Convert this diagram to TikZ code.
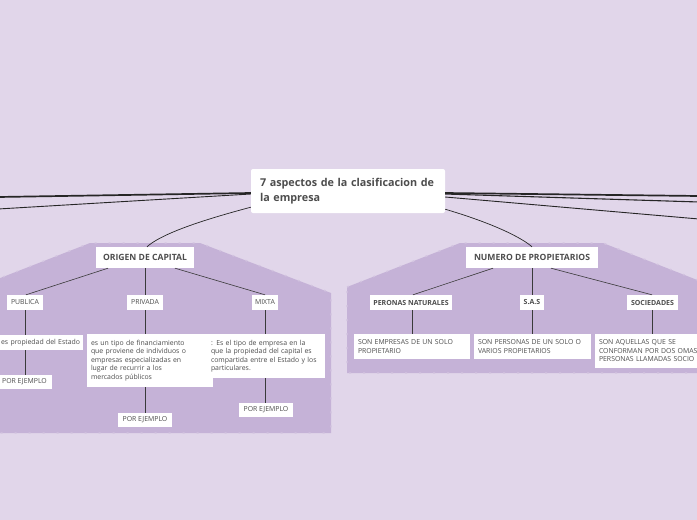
\documentclass[tikz,border=0pt]{standalone}
\usepackage{fontspec}
\setmainfont{Open Sans}
\definecolor{bgc}{HTML}{E1D6EA}
\definecolor{regc}{HTML}{C5B2D7}
\definecolor{regedge}{HTML}{D3C4E0}
\definecolor{txtc}{HTML}{4D4D4D}
\definecolor{linec}{HTML}{3A3A3A}
\tikzset{
  box/.style={fill=white, inner sep=0pt, text=txtc, align=center},
  hdr/.style={box, font=\fontsize{8.6}{10}\selectfont\bfseries},
  sub/.style={box, font=\fontsize{6.9}{8}\selectfont},
  subb/.style={box, font=\fontsize{7}{8}\selectfont\bfseries},
  desc/.style={box, font=\fontsize{6.9}{8.5}\selectfont, align=left},
  conn/.style={draw=linec, line width=0.6pt},
  mainconn/.style={draw=black!85, line width=0.9pt},
  region/.style={fill=regc, draw=regedge, line width=1.4pt, dash pattern=on 2pt off 12pt},
}
\begin{document}
\begin{tikzpicture}[x=1pt,y=-1pt]
\fill[bgc] (0,0) rectangle (697,520);
\useasboundingbox (0,0) rectangle (697,520);

% regions
\path[region] (-10,282) -- (90,243) -- (200,243) -- (331,293) -- (331,433) -- (-10,433) -- cycle;
\path[region] (347,287) -- (460,243) -- (603,243) -- (710,285) -- (710,373) -- (347,373) -- cycle;

% central node
\node[box, minimum width=194pt, minimum height=44pt, rounded corners=2pt,
      font=\fontsize{10.8}{15}\selectfont\bfseries, text width=176pt, align=left]
  (c) at (348,191) {7 aspectos de la clasificacion de\\la empresa};

% off-page endpoints
\coordinate (L1) at (-2,197);
\coordinate (L2) at (-2,209);
\coordinate (R1) at (699,196);
\coordinate (R2) at (699,202);
\coordinate (R3) at (699,219);

% level 1
\node[hdr, minimum width=98pt, minimum height=21pt] (orig) at (145,257.5) {ORIGEN DE CAPITAL};
\node[hdr, minimum width=132pt, minimum height=21pt] (num) at (532,257.5) {NUMERO DE PROPIETARIOS};

% level 2 left
\node[sub, minimum width=36pt, minimum height=15pt] (pub) at (25,302.5) {PUBLICA};
\node[sub, minimum width=36pt, minimum height=15pt] (priv) at (145,302.5) {PRIVADA};
\node[sub, minimum width=26pt, minimum height=15pt] (mix) at (265,302.5) {MIXTA};

\node[desc, minimum width=89pt, minimum height=15pt, text width=83pt, align=right] (pubd) at (38.5,342.5) {es propiedad del Estado};
\node[sub, minimum width=55pt, minimum height=14pt] (pubej) at (24.5,382) {POR EJEMPLO};

\node[desc, minimum width=126pt, minimum height=53pt, text width=118pt] (privd) at (150,360.5)
  {es un tipo de financiamiento\\que proviene de individuos o\\empresas especializadas en\\lugar de recurrir a los\\mercados públicos};
\node[sub, minimum width=54pt, minimum height=14pt] (privej) at (145,420) {POR EJEMPLO};

\node[desc, minimum width=117pt, minimum height=44pt, text width=111pt] (mixd) at (266.5,356)
  {: Es el tipo de empresa en la\\que la propiedad del capital es\\compartida entre el Estado y los\\particulares.};
\node[sub, minimum width=54pt, minimum height=14pt] (mixej) at (266,410) {POR EJEMPLO};

% level 2 right
\node[subb, minimum width=82pt, minimum height=15pt] (pn) at (411,302.5) {PERONAS NATURALES};
\node[subb, minimum width=24pt, minimum height=15pt] (sas) at (532,302.5) {S.A.S};
\node[subb, minimum width=51pt, minimum height=15pt] (soc) at (652.5,302.5) {SOCIEDADES};

\node[desc, minimum width=116pt, minimum height=25pt, text width=108pt] (pnd) at (412,346.5)
  {SON EMPRESAS DE UN SOLO\\PROPIETARIO};
\node[desc, minimum width=117pt, minimum height=25pt, text width=109pt] (sasd) at (532.5,346.5)
  {SON PERSONAS DE UN SOLO O\\VARIOS PROPIETARIOS};
\node[desc, minimum width=125pt, minimum height=34pt, text width=117pt] (socd) at (657.5,351)
  {SON AQUELLAS QUE SE\\CONFORMAN POR DOS OMAS\\PERSONAS LLAMADAS SOCIO};

% main connectors (yshift positive = up on the page)
\draw[mainconn, line width=1.7pt] ([yshift=-2pt]c.west) -- (L1);
\draw[mainconn] ([yshift=-3pt]c.west) -- (L2);
\draw[mainconn, line width=1.7pt] ([yshift=-2pt]c.east) -- (R1);
\draw[mainconn, line width=1.1pt] ([yshift=-3pt]c.east) -- (R2);
\draw[mainconn] ([yshift=-6pt]c.east) -- (R3);
\draw[mainconn, line width=0.7pt] ([yshift=6pt]c.south west) .. controls (195,222) and (160,235) .. ([xshift=2pt]orig.north);
\draw[mainconn, line width=0.7pt] ([yshift=4pt]c.south east) .. controls (495,224) and (522,238) .. (num.north);

% child connectors
\draw[conn] ([xshift=-37pt]orig.south) -- ([xshift=1pt]pub.north);
\draw[conn] (orig.south) -- (priv.north);
\draw[conn] ([xshift=30pt]orig.south) -- (mix.north);
\draw[conn] (pub.south) -- (pub.south |- pubd.north);
\draw[conn] (pub.south |- pubd.south) -- (pub.south |- pubej.north);
\draw[conn] (priv.south) -- (priv.south |- privd.north);
\draw[conn] (priv.south |- privd.south) -- (privej.north);
\draw[conn] (mix.south) -- (mix.south |- mixd.north);
\draw[conn] (mix.south |- mixd.south) -- (mix.south |- mixej.north);

\draw[conn] ([xshift=-39pt]num.south) -- ([xshift=2pt]pn.north);
\draw[conn] (num.south) -- (sas.north);
\draw[conn] ([xshift=19pt]num.south) -- ([xshift=-0.5pt]soc.north);
\draw[conn] ([xshift=1pt]pn.south) -- ([xshift=1pt]pn.south |- pnd.north);
\draw[conn] (sas.south) -- (sas.south |- sasd.north);
\draw[conn] ([xshift=-0.5pt]soc.south) -- ([xshift=-0.5pt]soc.south |- socd.north);
\end{tikzpicture}
\end{document}
